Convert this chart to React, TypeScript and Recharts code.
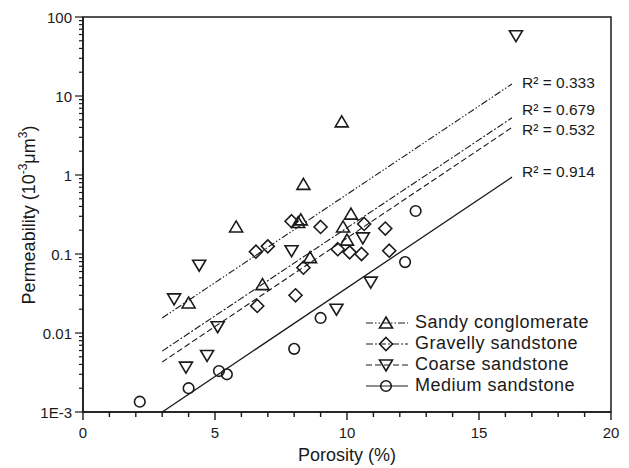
import { ComposedChart, Scatter, Line, XAxis, YAxis, ReferenceArea } from "recharts";

// porosity (%) vs permeability (10^-3 um^3)
const sandyConglomerate = [
  { x: 4.0, y: 0.024 },
  { x: 5.8, y: 0.22 },
  { x: 6.8, y: 0.041 },
  { x: 8.15, y: 0.25 },
  { x: 8.25, y: 0.27 },
  { x: 8.35, y: 0.76 },
  { x: 8.6, y: 0.09 },
  { x: 9.8, y: 4.7 },
  { x: 9.85, y: 0.22 },
  { x: 10.0, y: 0.15 },
  { x: 10.15, y: 0.32 },
];

const gravellySandstone = [
  { x: 6.55, y: 0.107 },
  { x: 6.6, y: 0.022 },
  { x: 7.0, y: 0.125 },
  { x: 7.9, y: 0.26 },
  { x: 8.05, y: 0.03 },
  { x: 8.35, y: 0.067 },
  { x: 9.0, y: 0.22 },
  { x: 9.65, y: 0.115 },
  { x: 10.1, y: 0.105 },
  { x: 10.55, y: 0.1 },
  { x: 10.65, y: 0.24 },
  { x: 11.45, y: 0.21 },
  { x: 11.6, y: 0.11 },
];

const coarseSandstone = [
  { x: 3.45, y: 0.027 },
  { x: 3.9, y: 0.0037 },
  { x: 4.4, y: 0.072 },
  { x: 4.7, y: 0.0052 },
  { x: 5.1, y: 0.012 },
  { x: 7.9, y: 0.11 },
  { x: 9.6, y: 0.02 },
  { x: 10.6, y: 0.16 },
  { x: 10.9, y: 0.044 },
  { x: 16.4, y: 58 },
];

const mediumSandstone = [
  { x: 2.15, y: 0.00135 },
  { x: 4.0, y: 0.002 },
  { x: 5.15, y: 0.0033 },
  { x: 5.45, y: 0.003 },
  { x: 8.0, y: 0.0063 },
  { x: 9.0, y: 0.0155 },
  { x: 12.2, y: 0.079 },
  { x: 12.6, y: 0.35 },
];

// exponential fit lines, end points
const sandyFit = [
  { x: 3, y: 0.0155 },
  { x: 16.25, y: 14.2 },
];
const gravellyFit = [
  { x: 3, y: 0.0059 },
  { x: 16.25, y: 5.3 },
];
const coarseFit = [
  { x: 3, y: 0.0043 },
  { x: 16.25, y: 4.0 },
];
const mediumFit = [
  { x: 3, y: 0.001 },
  { x: 16.25, y: 0.94 },
];

const xTicks = [0, 1, 2, 3, 4, 5, 6, 7, 8, 9, 10, 11, 12, 13, 14, 15, 16, 17, 18, 19, 20];
const yMajorTicks = [0.001, 0.01, 0.1, 1, 10, 100];
const yTickLabels = ["1E-3", "0.01", "0.1", "1", "10", "100"];

const W = 629;
const H = 468;
const PLOT_LEFT = 83;
const PLOT_TOP = 17;
const PLOT_RIGHT = 611;
const PLOT_BOTTOM = 412;
const INK = "#1a1a1a";
const FONT = "'Liberation Sans', Arial, Helvetica, sans-serif";

const yTicks: number[] = [];
yMajorTicks.forEach((d, i) => {
  if (i === yMajorTicks.length - 1) {
    yTicks.push(d);
    return;
  }
  for (let k = 1; k < 10; k++) yTicks.push(+(d * k).toPrecision(3));
});

const DASH = {
  sandy: "7 2 1.5 2 1.5 2",
  gravelly: "7 2 2 2",
  coarse: "6 3",
  medium: undefined as string | undefined,
};

function UpTriangle({ cx, cy }: any) {
  return (
    <path
      d={`M${cx},${cy - 6} L${cx + 6.5},${cy + 5} L${cx - 6.5},${cy + 5} Z`}
      fill="#fff"
      fillOpacity={0}
      stroke={INK}
      strokeWidth={1.6}
    />
  );
}

function DownTriangle({ cx, cy }: any) {
  return (
    <path
      d={`M${cx},${cy + 6} L${cx + 6.5},${cy - 5} L${cx - 6.5},${cy - 5} Z`}
      fill="#fff"
      fillOpacity={0}
      stroke={INK}
      strokeWidth={1.6}
    />
  );
}

function Diamond({ cx, cy }: any) {
  return (
    <path
      d={`M${cx},${cy - 6.5} L${cx + 6.5},${cy} L${cx},${cy + 6.5} L${cx - 6.5},${cy} Z`}
      fill="#fff"
      fillOpacity={0}
      stroke={INK}
      strokeWidth={1.6}
    />
  );
}

function Ring({ cx, cy }: any) {
  return <circle cx={cx} cy={cy} r={5.3} fill="none" stroke={INK} strokeWidth={1.6} />;
}

function XTick({ x, payload }: any) {
  const v = payload.value as number;
  const major = v % 5 === 0;
  return (
    <g>
      <line x1={x} x2={x} y1={PLOT_BOTTOM} y2={PLOT_BOTTOM + (major ? 8 : 5)} stroke={INK} strokeWidth={1.4} />
      {major && (
        <text x={x} y={PLOT_BOTTOM + 26} textAnchor="middle" fontSize={15} fill={INK} fontFamily={FONT}>
          {v}
        </text>
      )}
    </g>
  );
}

function YTick({ y, payload }: any) {
  const v = payload.value as number;
  const idx = yMajorTicks.findIndex((m) => Math.abs(m - v) / m < 1e-6);
  const major = idx >= 0;
  return (
    <g>
      <line x1={PLOT_LEFT - (major ? 8 : 4)} x2={PLOT_LEFT} y1={y} y2={y} stroke={INK} strokeWidth={1.2} />
      {major && (
        <text x={PLOT_LEFT - 11} y={y + 5.5} textAnchor="end" fontSize={15} fill={INK} fontFamily={FONT}>
          {yTickLabels[idx]}
        </text>
      )}
    </g>
  );
}

function fitLabel(text: string, dy: number) {
  return (props: any) => {
    if (props.index !== 1) return null;
    return (
      <text
        key={text}
        x={props.x + 10}
        y={props.y + dy}
        fontSize={15.5}
        fill={INK}
        fontFamily={FONT}
      >
        {text}
      </text>
    );
  };
}

const legendItems = [
  { name: "Sandy conglomerate", dash: DASH.sandy, marker: "up" },
  { name: "Gravelly sandstone", dash: DASH.gravelly, marker: "diamond" },
  { name: "Coarse sandstone", dash: DASH.coarse, marker: "down" },
  { name: "Medium sandstone", dash: DASH.medium, marker: "ring" },
];

function LegendMarker({ kind }: { kind: string }) {
  const cx = 21;
  const cy = 9;
  if (kind === "up") return <UpTriangle cx={cx} cy={cy} />;
  if (kind === "down") return <DownTriangle cx={cx} cy={cy} />;
  if (kind === "diamond") return <Diamond cx={cx} cy={cy} />;
  return <Ring cx={cx} cy={cy} />;
}

export default function App() {
  return (
    <div style={{ position: "absolute", left: 0, top: 0, width: W, height: H, background: "#fff", fontFamily: FONT }}>
      <ComposedChart width={W} height={H} margin={{ top: PLOT_TOP, right: W - PLOT_RIGHT, left: 0, bottom: 0 }}>
        <XAxis
          type="number"
          dataKey="x"
          domain={[0, 20]}
          ticks={xTicks}
          interval={0}
          tick={<XTick />}
          tickLine={false}
          axisLine={{ stroke: INK, strokeWidth: 1.5 }}
          height={H - PLOT_BOTTOM}
          allowDataOverflow
          label={{
            content: () => (
              <text x={347} y={461} textAnchor="middle" fontSize={18} fill={INK} fontFamily={FONT}>
                Porosity (%)
              </text>
            ),
          }}
        />
        <YAxis
          type="number"
          dataKey="y"
          scale="log"
          domain={[0.001, 100]}
          ticks={yTicks}
          interval={0}
          tick={<YTick />}
          tickLine={false}
          axisLine={{ stroke: INK, strokeWidth: 1.5 }}
          width={PLOT_LEFT}
          allowDataOverflow
          label={{
            content: () => (
              <text
                transform="translate(35,215) rotate(-90)"
                textAnchor="middle"
                fontSize={18}
                fill={INK}
                fontFamily={FONT}
              >
                Permeability (10
                <tspan dy={-8} fontSize={12}>
                  -3
                </tspan>
                <tspan dy={8}>μm</tspan>
                <tspan dy={-8} fontSize={12}>
                  3
                </tspan>
                <tspan dy={8}>)</tspan>
              </text>
            ),
          }}
        />
        <ReferenceArea x1={0} x2={20} y1={0.001} y2={100} fill="none" stroke={INK} strokeWidth={1.5} />

        <Line
          data={sandyFit}
          dataKey="y"
          type="linear"
          stroke={INK}
          strokeWidth={1.1}
          strokeDasharray={DASH.sandy}
          dot={false}
          activeDot={false}
          isAnimationActive={false}
          label={fitLabel("R² = 0.333", 4)}
        />
        <Line
          data={gravellyFit}
          dataKey="y"
          type="linear"
          stroke={INK}
          strokeWidth={1.1}
          strokeDasharray={DASH.gravelly}
          dot={false}
          activeDot={false}
          isAnimationActive={false}
          label={fitLabel("R² = 0.679", -3)}
        />
        <Line
          data={coarseFit}
          dataKey="y"
          type="linear"
          stroke={INK}
          strokeWidth={1.1}
          strokeDasharray={DASH.coarse}
          dot={false}
          activeDot={false}
          isAnimationActive={false}
          label={fitLabel("R² = 0.532", 8)}
        />
        <Line
          data={mediumFit}
          dataKey="y"
          type="linear"
          stroke={INK}
          strokeWidth={1.3}
          dot={false}
          activeDot={false}
          isAnimationActive={false}
          label={fitLabel("R² = 0.914", 0)}
        />

        <Scatter data={sandyConglomerate} shape={<UpTriangle />} isAnimationActive={false} />
        <Scatter data={gravellySandstone} shape={<Diamond />} isAnimationActive={false} />
        <Scatter data={coarseSandstone} shape={<DownTriangle />} isAnimationActive={false} />
        <Scatter data={mediumSandstone} shape={<Ring />} isAnimationActive={false} />
      </ComposedChart>

      <div style={{ position: "absolute", left: 365, top: 312 }}>
        {legendItems.map((item) => (
          <div key={item.name} style={{ display: "flex", alignItems: "center", height: 21 }}>
            <svg width={44} height={18} style={{ marginRight: 6 }}>
              <line x1={1} x2={43} y1={9} y2={9} stroke={INK} strokeWidth={1.1} strokeDasharray={item.dash} />
              <LegendMarker kind={item.marker} />
            </svg>
            <span style={{ fontSize: 18, letterSpacing: 0.5, color: INK, lineHeight: "21px" }}>{item.name}</span>
          </div>
        ))}
      </div>
    </div>
  );
}
